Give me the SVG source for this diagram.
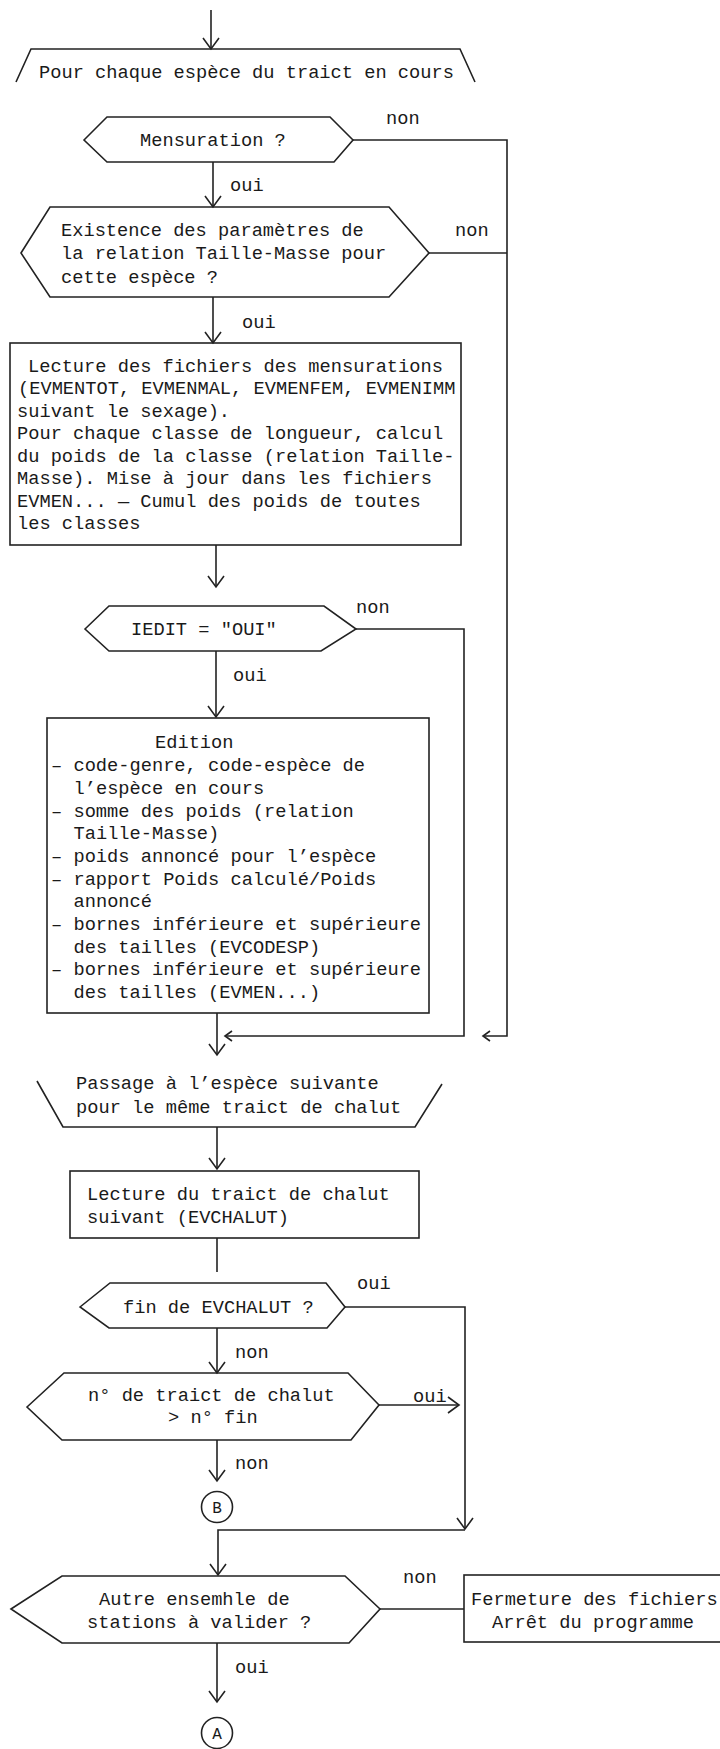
<svg xmlns="http://www.w3.org/2000/svg" width="720" height="1749" viewBox="0 0 720 1749">
  <style>
    .shape { fill: none; stroke: #222; stroke-width: 1.6; stroke-linejoin: miter; }
    .wire { fill: none; stroke: #222; stroke-width: 1.6; }
    text { font-family: "Liberation Mono", "DejaVu Sans Mono", monospace; font-size: 18.7px; fill: #1a1a1a; }
    .lbl { font-size: 18.7px; }
    .mid { text-anchor: middle; font-size: 16px; }
  </style>
  <defs>
    <marker id="arr" markerUnits="userSpaceOnUse" viewBox="-13 -10 15 20" markerWidth="15" markerHeight="20" refX="0" refY="0" orient="auto">
      <path d="M-11,-8 L0,0 L-11,8" fill="none" stroke="#222" stroke-width="1.6"/>
    </marker>
    <marker id="arrSmall" markerUnits="userSpaceOnUse" viewBox="-10 -7 12 14" markerWidth="12" markerHeight="14" refX="0" refY="0" orient="auto">
      <path d="M-7,-5 L0,0 L-7,5" fill="none" stroke="#222" stroke-width="1.6"/>
    </marker>
  </defs>
  <rect width="720" height="1749" fill="#ffffff"/>

  <!-- connectors -->
  <g id="connectors">
    <path class="wire" d="M211,10 V49" marker-end="url(#arr)"/>
    <path class="wire" d="M213,162 V207" marker-end="url(#arr)"/>
    <path class="wire" d="M213,297 V343" marker-end="url(#arr)"/>
    <path class="wire" d="M216,545 V587" marker-end="url(#arr)"/>
    <path class="wire" d="M216,651 V717" marker-end="url(#arr)"/>
    <path class="wire" d="M217,1013 V1055" marker-end="url(#arr)"/>
    <path class="wire" d="M217,1127 V1169" marker-end="url(#arr)"/>
    <path class="wire" d="M217,1238 V1272"/>
    <path class="wire" d="M217,1328 V1373" marker-end="url(#arr)"/>
    <path class="wire" d="M217,1440 V1481" marker-end="url(#arr)"/>
    <path class="wire" d="M465,1530 H218 V1575" marker-end="url(#arr)"/>
    <path class="wire" d="M217,1643 V1702" marker-end="url(#arr)"/>
    <!-- non branches -->
    <path class="wire" d="M353,140 H507 V1036 H483" marker-end="url(#arrSmall)"/>
    <path class="wire" d="M429,253 H507"/>
    <path class="wire" d="M356,629 H464 V1036 H225" marker-end="url(#arrSmall)"/>
    <path class="wire" d="M345,1307 H465 V1529" marker-end="url(#arr)"/>
    <path class="wire" d="M379,1405 H459" marker-end="url(#arr)"/>
    <path class="wire" d="M380,1609 H464"/>
    <!-- branch labels -->
    <text x="386" y="124">non</text>
    <text x="230" y="191">oui</text>
    <text x="455" y="236">non</text>
    <text x="242" y="328">oui</text>
    <text x="356" y="613">non</text>
    <text x="233" y="681">oui</text>
    <text x="357" y="1289">oui</text>
    <text x="235" y="1358">non</text>
    <text x="413" y="1402">oui</text>
    <text x="235" y="1469">non</text>
    <text x="403" y="1583">non</text>
    <text x="235" y="1673">oui</text>
  </g>

  <g id="loop-start">
    <path class="shape" d="M16,82 L31,49 H460 L475,82"/>
    <text x="39" y="78">Pour chaque espèce du traict en cours</text>
  </g>

  <g id="test-mensuration">
    <path class="shape" d="M84,140 L107,117 H330 L353,140 L334,162 H107 Z"/>
    <text x="140" y="146">Mensuration ?</text>
  </g>

  <g id="test-parametres">
    <path class="shape" d="M21,253 L50,207 H389 L429,253 L389,297 H50 Z"/>
    <text x="61" y="236">Existence des paramètres de</text>
    <text x="61" y="259">la relation Taille-Masse pour</text>
    <text x="61" y="283">cette espèce ?</text>
  </g>

  <g id="calcul-poids">
    <rect class="shape" x="10" y="343" width="451" height="202"/>
    <text x="28" y="372">Lecture des fichiers des mensurations</text>
    <text x="18" y="394">(EVMENTOT, EVMENMAL, EVMENFEM, EVMENIMM</text>
    <text x="17" y="417">suivant le sexage).</text>
    <text x="17" y="439">Pour chaque classe de longueur, calcul</text>
    <text x="17" y="462">du poids de la classe (relation Taille-</text>
    <text x="17" y="484">Masse). Mise à jour dans les fichiers</text>
    <text x="17" y="507">EVMEN... — Cumul des poids de toutes</text>
    <text x="17" y="529">les classes</text>
  </g>

  <g id="test-iedit">
    <path class="shape" d="M85,629 L109,606 H324 L356,629 L321,651 H109 Z"/>
    <text x="131" y="635">IEDIT = "OUI"</text>
  </g>

  <g id="edition">
    <rect class="shape" x="47" y="718" width="382" height="295"/>
    <text x="155" y="748">Edition</text>
    <text x="51" y="771">– code-genre, code-espèce de</text>
    <text x="73.5" y="794">l’espèce en cours</text>
    <text x="51" y="817">– somme des poids (relation</text>
    <text x="73.5" y="839">Taille-Masse)</text>
    <text x="51" y="862">– poids annoncé pour l’espèce</text>
    <text x="51" y="885">– rapport Poids calculé/Poids</text>
    <text x="73.5" y="907">annoncé</text>
    <text x="51" y="930">– bornes inférieure et supérieure</text>
    <text x="73.5" y="953">des tailles (EVCODESP)</text>
    <text x="51" y="975">– bornes inférieure et supérieure</text>
    <text x="73.5" y="998">des tailles (EVMEN...)</text>
  </g>

  <g id="loop-end">
    <path class="shape" d="M37,1081 L63,1127 H415 L442,1084"/>
    <text x="76" y="1089">Passage à l’espèce suivante</text>
    <text x="76" y="1113">pour le même traict de chalut</text>
  </g>

  <g id="lecture-traict">
    <rect class="shape" x="70" y="1171" width="349" height="67"/>
    <text x="87" y="1200">Lecture du traict de chalut</text>
    <text x="87" y="1223">suivant (EVCHALUT)</text>
  </g>

  <g id="test-fin-fichier">
    <path class="shape" d="M80,1307 L110,1283 H326 L345,1307 L327,1328 H109 Z"/>
    <text x="123" y="1313">fin de EVCHALUT ?</text>
  </g>

  <g id="test-numero">
    <path class="shape" d="M27,1407 L64,1373 H348 L379,1405 L351,1440 H62 Z"/>
    <text x="88" y="1401">n° de traict de chalut</text>
    <text x="168" y="1423">&gt; n° fin</text>
  </g>

  <g id="connector-b">
    <circle class="shape" cx="217" cy="1507" r="15.5"/>
    <text class="mid" x="217" y="1513">B</text>
  </g>

  <g id="test-autre">
    <path class="shape" d="M11,1609 L62,1576 H345 L380,1609 L349,1643 H62 Z"/>
    <text x="99" y="1605">Autre ensemhle de</text>
    <text x="87" y="1628">stations à valider ?</text>
  </g>

  <g id="fermeture">
    <rect class="shape" x="464" y="1575" width="270" height="67"/>
    <text x="471" y="1605">Fermeture des fichiers</text>
    <text x="492" y="1628">Arrêt du programme</text>
  </g>

  <g id="connector-a">
    <circle class="shape" cx="217" cy="1733" r="15.5"/>
    <text class="mid" x="217" y="1739">A</text>
  </g>
</svg>
